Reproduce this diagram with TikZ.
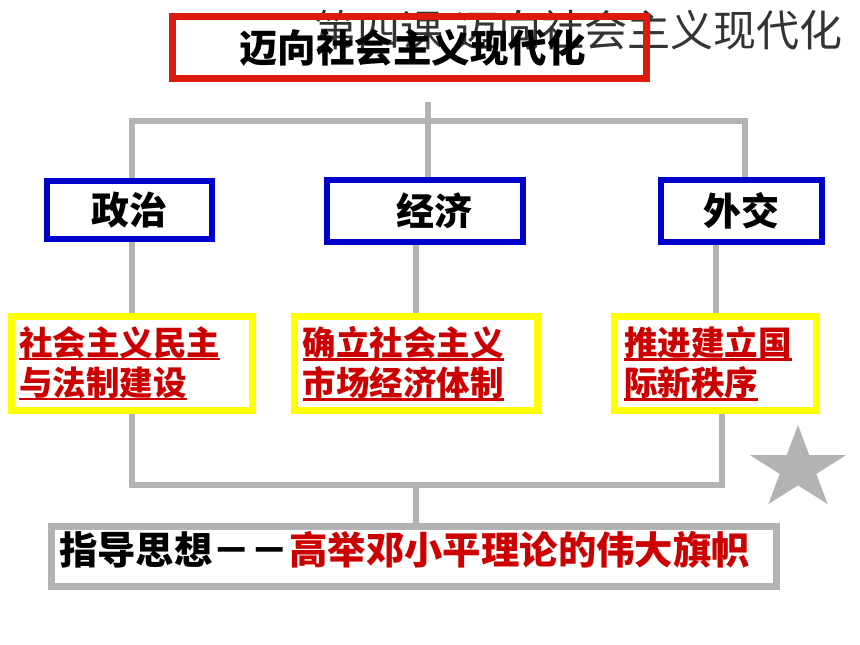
\documentclass[tikz,border=0pt]{standalone}
\usepackage{fontspec}
\newfontfamily\cjk{Noto Sans CJK SC}
\usetikzlibrary{calc}
\definecolor{titlered}{HTML}{DD1A0E}
\definecolor{boxblue}{HTML}{0000CC}
\definecolor{boxyellow}{HTML}{FFFF00}
\definecolor{txtred}{HTML}{CC0000}
\definecolor{linegray}{HTML}{B3B3B3}
\newcommand\myul[1]{\leavevmode\setbox0\hbox{#1}\hbox{\rlap{\rule[-5pt]{\wd0}{2.2pt}}\box0}}
\tikzset{
  conn/.style={draw=linegray, line width=6pt},
  redbox/.style={draw=titlered, line width=7pt, fill=none, inner sep=0pt,
    font=\cjk\bfseries\fontsize{38.5}{44}\selectfont},
  bluebox/.style={draw=boxblue, line width=6pt, fill=white, inner sep=0pt,
    font=\cjk\bfseries\fontsize{38}{44}\selectfont},
  ybox/.style={draw=boxyellow, line width=7pt, fill=white, inner ysep=0pt, inner xsep=8pt,
    align=left, text=txtred, font=\cjk\bfseries\fontsize{33.5}{40}\selectfont},
  graybox/.style={draw=linegray, line width=7pt, fill=white, inner ysep=0pt, inner xsep=7.5pt,
    align=left, font=\cjk\bfseries\fontsize{38.4}{44}\selectfont},
  bgtitle/.style={font=\cjk\fontsize{43}{50}\selectfont, inner sep=0pt, text=black!80},
}
\begin{document}
\begin{tikzpicture}[x=1pt,y=-1pt]
\useasboundingbox (0,0) rectangle (860,645);
\fill[white] (0,0) rectangle (860,645);
% background lesson title
\node[bgtitle, anchor=west] (bg) at (314,30) {第四课\hspace{12pt}迈向社会主义现代化};
% title box
\node[redbox, minimum width=474pt, minimum height=62pt] (title) at (409.5,47.5) {\hspace{6pt}迈向社会主义现代化};
% blue boxes
\node[bluebox, minimum width=165pt, minimum height=58pt] (pol) at (129.5,210) {政治};
\node[bluebox, minimum width=196pt, minimum height=62pt] (eco) at (425,211) {\hspace{18pt}经济};
\node[bluebox, minimum width=161pt, minimum height=62pt] (dip) at (741.5,211) {外交};
% yellow boxes
\node[ybox, text width=225pt, minimum height=94pt] (y1) at (132,363.5) {\myul{社会主义民主}\\\myul{与法制建设}};
\node[ybox, text width=227pt, minimum height=94pt] (y2) at (416,363.5) {\myul{确立社会主义}\\\myul{市场经济体制}};
\node[ybox, inner xsep=9.5pt, text width=183pt, minimum height=94pt] (y3) at (715.5,363.5) {\myul{推进建立国}\\\myul{际新秩序}};
% bottom box
\node[graybox, text width=710pt, minimum height=60pt, text depth=17pt] (g) at (414,556.5) {指导思想－－\textcolor{txtred}{高举邓小平理论的伟大旗帜}};
% connectors
\coordinate (topT) at (428,102);
\coordinate (hubT) at (428,121);
\coordinate (hubB) at (416,485);
\draw[conn] (topT) -- (topT |- eco.north);
\draw[conn] (pol.north -| y1.north) |- (hubT) -| (dip.north -| 745,0);
\draw[conn] (y1.north) -- (y1.north |- pol.south);
\draw[conn] (y2.north) -- (y2.north |- eco.south);
\draw[conn] (y3.north) -- (y3.north |- dip.south);
\draw[conn] (y1.south) |- (hubB) -| (y3.south -| 722,0);
\draw[conn] (hubB) -- (hubB |- g.north);
% star
\fill[linegray] (798,425) -- (809.3,455.2) -- (846,455.2) -- (816.3,473.9) -- (827.7,504.1)
  -- (798,485.4) -- (768.3,504.1) -- (779.7,473.9) -- (750,455.2) -- (786.7,455.2) -- cycle;
\end{tikzpicture}
\end{document}
